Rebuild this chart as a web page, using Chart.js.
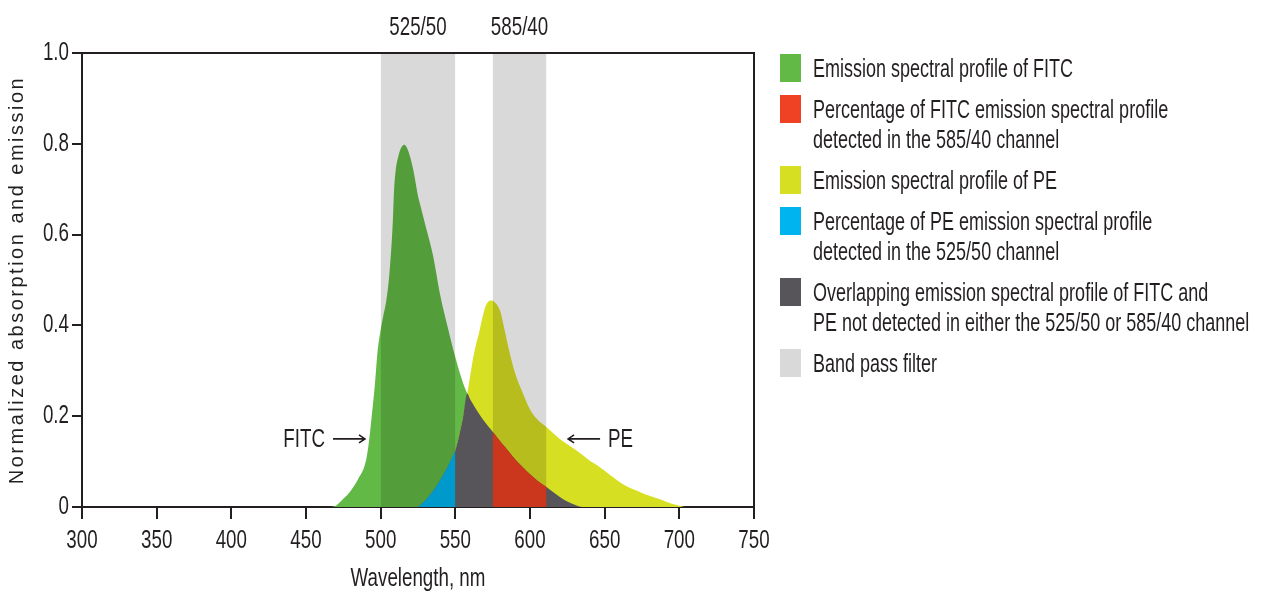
<!DOCTYPE html>
<html><head><meta charset="utf-8">
<script src="https://cdn.jsdelivr.net/npm/chart.js@4.4.1/dist/chart.umd.min.js"></script>
<style>
html,body{margin:0;padding:0;background:#fff;}
#wrap{position:relative;width:1270px;height:596px;overflow:hidden;}
#chart{position:absolute;left:0;top:0;}
#legend{position:absolute;left:780px;top:53px;font-family:'Liberation Sans',Arial,sans-serif;font-size:25px;color:#231f20;}
.item{display:flex;align-items:flex-start;margin-bottom:11px;}
.sw{width:21px;height:28px;flex:none;margin-right:12px;margin-top:1px;}
.txt{line-height:30px;white-space:nowrap;transform:scaleX(0.72);transform-origin:0 0;}
</style></head>
<body><div id="wrap"><canvas id="chart" width="1270" height="596"></canvas><div id="legend"></div></div>
<script>
// ---- data ----
const wavelengths = [465,470,475,480,485,490,492,494,496,498,500,502,504,506,508,509,510,512,514,516,518,520,522,525,526,530,535,540,545,550,555,558,560,562,564,566,568,570,572,574,575,576,578,580,583,586,590,595,600,605,611,615,620,625,630,635,640,645,650,655,660,665,670,675,680,685,690,695,700,705,710];
const fitcEmission = [0,0.003,0.018,0.036,0.062,0.10,0.14,0.20,0.265,0.345,0.39,0.425,0.46,0.52,0.62,0.70,0.74,0.775,0.793,0.798,0.788,0.768,0.74,0.685,0.672,0.62,0.555,0.465,0.395,0.33,0.275,0.25,0.237,0.226,0.215,0.205,0.195,0.186,0.178,0.17,0.166,0.162,0.153,0.145,0.133,0.121,0.105,0.088,0.072,0.058,0.044,0.034,0.022,0.012,0.005,0,0,0,0,0,0,0,0,0,0,0,0,0,0,0,0];
const peEmission = [0,0,0,0,0,0,0,0,0,0,0,0,0,0,0,0,0,0,0,0,0,0,0,0,0.003,0.015,0.035,0.06,0.09,0.125,0.195,0.25,0.29,0.33,0.36,0.385,0.415,0.44,0.452,0.455,0.455,0.452,0.445,0.432,0.39,0.345,0.295,0.252,0.215,0.193,0.176,0.164,0.15,0.138,0.127,0.115,0.102,0.092,0.08,0.067,0.055,0.045,0.038,0.031,0.025,0.019,0.013,0.007,0.003,0,0];
const bandLabels = ['525/50','585/40'];
const bandStart = [500,575];
const bandEnd = [550,611];
const xTickLabels = ['300','350','400','450','500','550','600','650','700','750'];
const yTickLabels = ['0','0.2','0.4','0.6','0.8','1.0'];
const arrowLabels = ['FITC','PE'];
const arrowTipX = [489.5,625.5];
const arrowTipY = [0.15,0.15];
const legendLabels = [
  ['Emission spectral profile of FITC'],
  ['Percentage of FITC emission spectral profile','detected in the 585/40 channel'],
  ['Emission spectral profile of PE'],
  ['Percentage of PE emission spectral profile','detected in the 525/50 channel'],
  ['Overlapping emission spectral profile of FITC and','PE not detected in either the 525/50 or 585/40 channel'],
  ['Band pass filter']
];

// ---- build library tables ----
const pts = arr => wavelengths.map((w,i)=>({x:w,y:arr[i]}));
const overlapVals = wavelengths.map((w,i)=>Math.min(fitcEmission[i], peEmission[i]));
const inRange = (lo,hi) => wavelengths.map((w,i)=>({x:w,y:overlapVals[i]})).filter(p=>p.x>=lo && p.x<=hi);
const bandPts = i => [{x:bandStart[i],y:1},{x:bandEnd[i],y:1}];

const FONT = "'Liberation Sans Narrow','Liberation Sans',Arial,sans-serif";
const TITLE_FONT = "'Liberation Sans',Arial,sans-serif";
const INK = '#231f20';
const BAND = 'rgba(0,0,0,0.15)';
const common = {borderWidth:0, borderColor:'rgba(0,0,0,0)', pointRadius:0, pointHoverRadius:0, cubicInterpolationMode:'monotone', fill:'origin'};

const datasets = [
  {...common, label:legendLabels[0].join(' '), data:pts(fitcEmission), backgroundColor:'#62b946', order:5},
  {...common, label:legendLabels[1].join(' '), data:inRange(bandStart[1], bandEnd[1]), backgroundColor:'#ef4123', order:2},
  {...common, label:legendLabels[2].join(' '), data:pts(peEmission), backgroundColor:'#d7df23', order:4},
  {...common, label:legendLabels[3].join(' '), data:inRange(525, bandEnd[0]), backgroundColor:'#00b4ef', order:2},
  {...common, label:legendLabels[4].join(' '), data:pts(overlapVals), backgroundColor:'#58555a', order:3},
  {...common, label:legendLabels[5].join(' '), data:bandPts(0), backgroundColor:BAND, order:1, tension:0, cubicInterpolationMode:'default', fill:{value:-0.007}, clip:false},
  {...common, label:legendLabels[5].join(' '), data:bandPts(1), backgroundColor:BAND, order:1, tension:0, cubicInterpolationMode:'default', fill:{value:-0.007}, clip:false}
];

// condensed rendering of canvas text (the reference uses a condensed face)
const canvas = document.getElementById('chart');
const ctx2d = canvas.getContext('2d');
const origFill = ctx2d.fillText.bind(ctx2d);
ctx2d.fillText = function(text, x, y, maxWidth){
  if (this.font.includes('Narrow')) {
    this.save(); this.translate(x, y); this.scale(0.75, 1);
    origFill(text, 0, 0); this.restore();
  } else {
    this.save(); this.letterSpacing = '2.5px';
    origFill(text, x, y); this.restore();
  }
};

const annotate = {
  id:'annotate',
  afterDraw(chart){
    const {ctx, chartArea:a, scales:{x,y}} = chart;
    ctx.save();
    ctx.strokeStyle = INK; ctx.lineWidth = 2;
    ctx.beginPath(); ctx.moveTo(a.left, a.top); ctx.lineTo(a.right, a.top); ctx.lineTo(a.right, a.bottom); ctx.stroke();
    ctx.fillStyle = INK; ctx.font = '25px ' + FONT; ctx.textBaseline = 'middle'; ctx.textAlign = 'center';
    bandLabels.forEach((t,i)=>ctx.fillText(t, x.getPixelForValue((bandStart[i]+bandEnd[i])/2), a.top-25));
    ctx.lineWidth = 1.6;
    arrowLabels.forEach((t,i)=>{
      const tx = x.getPixelForValue(arrowTipX[i]), ty = y.getPixelForValue(arrowTipY[i]);
      const dir = i===0 ? 1 : -1;
      const tail = tx - dir*32;
      ctx.beginPath(); ctx.moveTo(tail, ty); ctx.lineTo(tx, ty);
      ctx.moveTo(tx - dir*6, ty-4); ctx.lineTo(tx, ty); ctx.lineTo(tx - dir*6, ty+4); ctx.stroke();
      ctx.textAlign = dir===1 ? 'right' : 'left';
      ctx.fillText(t, tail - dir*8, ty+1);
    });
    ctx.restore();
  }
};

const chart = new Chart(canvas, {
  type:'line',
  data:{datasets},
  options:{
    responsive:false, animation:false, devicePixelRatio:1,
    layout:{padding:{left:0, top:53, right:516, bottom:0}},
    plugins:{legend:{display:false}, tooltip:{enabled:false}},
    scales:{
      x:{type:'linear', min:300, max:750,
        afterFit(s){ s.height = 89; },
        ticks:{stepSize:50, color:INK, padding:7, font:{family:FONT, size:25}, maxRotation:0,
          callback:(v,i)=>xTickLabels[i]},
        grid:{display:true, drawOnChartArea:false, drawTicks:true, tickLength:12, color:INK, lineWidth:2},
        border:{display:true, color:INK, width:2},
        title:{display:true, text:'Wavelength, nm', color:INK, font:{family:FONT, size:25, lineHeight:1.2}, padding:{top:0,bottom:2}}
      },
      y:{type:'linear', min:0, max:1,
        afterFit(s){ s.width = 82; },
        ticks:{stepSize:0.2, color:INK, padding:3, font:{family:FONT, size:25},
          callback:(v,i)=>yTickLabels[i]},
        grid:{display:true, drawOnChartArea:false, drawTicks:true, tickLength:10, color:INK, lineWidth:2},
        border:{display:true, color:INK, width:2},
        title:{display:true, text:'Normalized absorption and emission', color:INK, font:{family:TITLE_FONT, size:20, lineHeight:1.2}, padding:{top:5,bottom:0}}
      }
    }
  },
  plugins:[annotate]
});

// ---- HTML legend built from the datasets ----
const legendEl = document.getElementById('legend');
const seen = new Set();
chart.data.datasets.forEach(ds=>{
  if (seen.has(ds.label)) return; seen.add(ds.label);
  const lines = legendLabels.find(l=>l.join(' ')===ds.label);
  const item = document.createElement('div'); item.className='item';
  const sw = document.createElement('div'); sw.className='sw';
  sw.style.background = ds.backgroundColor===BAND ? '#d9d9d9' : ds.backgroundColor;
  const tx = document.createElement('div'); tx.className='txt';
  lines.forEach((l,j)=>{ if(j) tx.appendChild(document.createElement('br')); tx.appendChild(document.createTextNode(l)); });
  item.appendChild(sw); item.appendChild(tx); legendEl.appendChild(item);
});
</script>
</body></html>
